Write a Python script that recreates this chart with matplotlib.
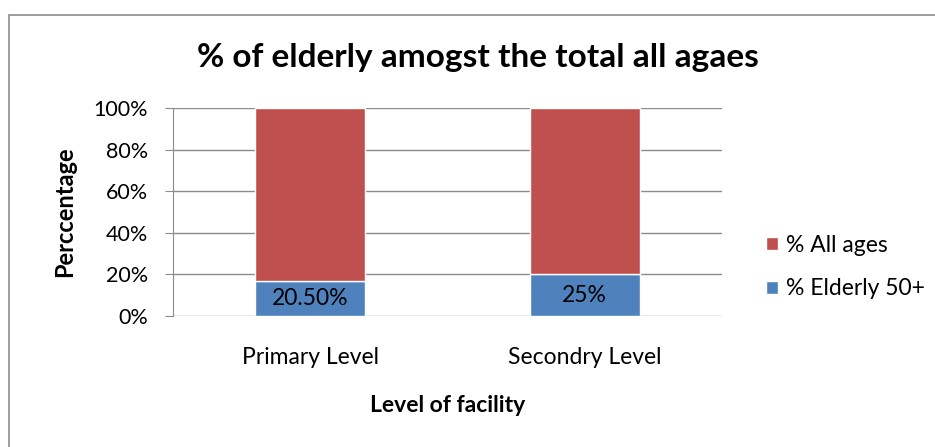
import matplotlib.pyplot as plt
from matplotlib.patches import Rectangle
from matplotlib.ticker import PercentFormatter

# data (100% stacked)
levels = ['Primary Level', 'Secondry Level']
elderly = [20.5, 25.0]
all_ages = [100.0, 100.0]
elderly_labels = ['20.50%', '25%']

blue = '#4F81BD'
red = '#C0504D'
plt.rcParams['font.family'] = ['Lato', 'DejaVu Sans']

totals = [e + a for e, a in zip(elderly, all_ages)]
elderly_pct = [e / t * 100 for e, t in zip(elderly, totals)]
all_pct = [a / t * 100 for a, t in zip(all_ages, totals)]

fig = plt.figure(figsize=(9.35, 4.47), dpi=100)
fig.patches.append(Rectangle((9 / 935, -0.05), 1.0, 1 - 15 / 447 + 0.05,
                             transform=fig.transFigure, fill=False,
                             edgecolor='#8c8c8c', linewidth=1.2))
ax = fig.add_axes([173 / 935, 1 - 316 / 447, (722 - 173) / 935, (316 - 108) / 447])

x = range(len(levels))
b1 = ax.bar(x, elderly_pct, width=0.4, color=blue, edgecolor='white',
            linewidth=1, label='% Elderly 50+', zorder=3)
b2 = ax.bar(x, all_pct, bottom=elderly_pct, width=0.4, color=red,
            edgecolor='white', linewidth=1, label='% All ages', zorder=3)
for rect, lab in zip(b1, elderly_labels):
    ax.text(rect.get_x() + rect.get_width() / 2, rect.get_height() / 2, lab,
            ha='center', va='center', fontsize=16.5, color='black', zorder=4)

ax.set_xlim(-0.5, 1.5)
ax.set_ylim(0, 100)
ax.set_yticks(range(0, 101, 20))
ax.yaxis.set_major_formatter(PercentFormatter(decimals=0))
ax.set_xticks(list(x))
ax.set_xticklabels(levels)
ax.grid(axis='y', color='#8c8c8c', linewidth=1, zorder=0)
ax.tick_params(axis='y', length=5.8, color='#8c8c8c', labelsize=15.5, pad=12)
ax.tick_params(axis='x', length=0, labelsize=16.5, pad=22)
for s in ['top', 'right', 'bottom']:
    ax.spines[s].set_visible(False)
ax.spines['left'].set_color('#8c8c8c')

ax.set_ylabel('Perccentage', fontsize=17, fontweight='bold', labelpad=13)
ax.set_xlabel('Level of facility', fontsize=16.5, fontweight='bold', labelpad=20)
fig.text(478 / 935, 1 - 58 / 447, '% of elderly amogst the total all agaes',
         ha='center', va='center', fontsize=24, fontweight='bold')

handles = [b2, b1]
leg = fig.legend(handles, ['% All ages', '% Elderly 50+'], loc='center left',
                 bbox_to_anchor=(755 / 935, 1 - 267 / 447), frameon=False,
                 fontsize=16.5, handlelength=0.5, handleheight=0.5,
                 handletextpad=0.35, labelspacing=1.0, borderpad=0)

fig.savefig('out.png', dpi=100)
